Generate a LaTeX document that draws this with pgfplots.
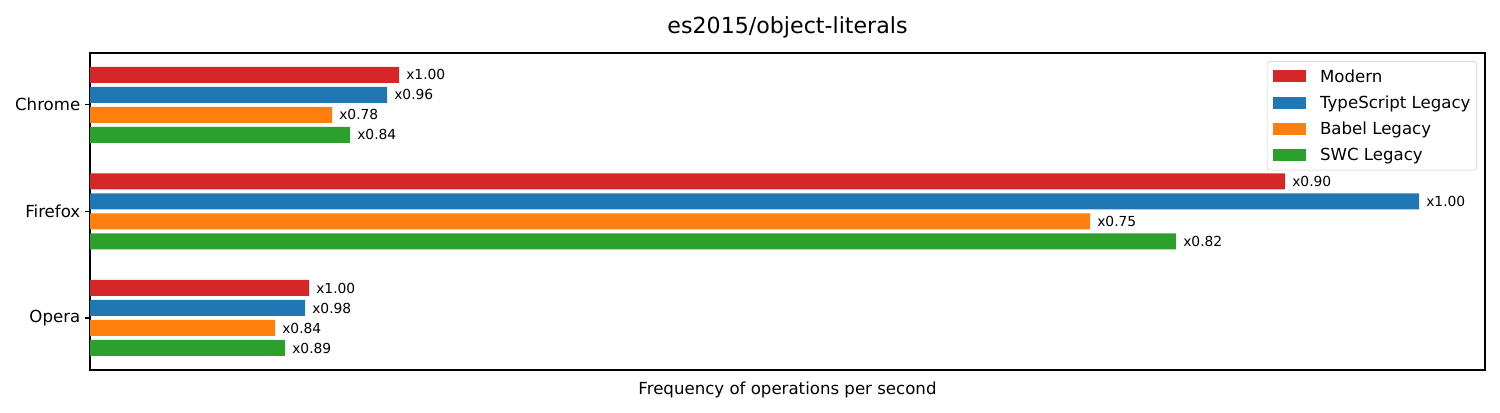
\documentclass[border=0pt]{standalone}
\usepackage{fontspec}
\setmainfont{DejaVu Sans}
\usepackage{pgfplots}
\pgfplotsset{compat=1.18}
\definecolor{cM}{HTML}{D62728}
\definecolor{cT}{HTML}{1F77B4}
\definecolor{cB}{HTML}{FF7F0E}
\definecolor{cS}{HTML}{2CA02C}
\begin{document}
\begin{tikzpicture}
\useasboundingbox (0,0) rectangle (15in,4.12in);
\begin{axis}[
  at={(0.90in,0.42in)}, anchor=south west,
  scale only axis, width=13.95in, height=3.17in,
  xmin=0, xmax=1395, ymin=-0.488, ymax=2.486,
  xtick=\empty, ytick={0,1,2}, yticklabels={Opera,Firefox,Chrome},
  ytick pos=left,
  yticklabel style={font=\fontsize{12}{14}\selectfont},
  tick align=outside, major tick length=3.5pt,
  tick style={black, line width=0.8pt},
  axis line style={line width=0.8pt},
  xbar, bar width=0.16in,
  title={es2015/object-literals},
  title style={font=\fontsize{16}{19}\selectfont, at={(0.5,1)}, anchor=base, yshift=0.11in},
  xlabel={Frequency of operations per second},
  xlabel style={font=\fontsize{12}{14}\selectfont, at={(0.5,0)}, anchor=base, yshift=-0.24in},
  nodes near coords, point meta=explicit symbolic,
  every node near coord/.append style={font=\fontsize{10}{12}\selectfont, anchor=west, inner sep=0pt, xshift=0.07in, text=black},
  legend image code/.code={\fill[#1, sharp corners] (0in,-0.06in) rectangle (0.33in,0.06in);},
  legend cell align=left,
  legend style={at={(1,1)}, anchor=north east, xshift=-0.08in, yshift=-0.08in,
    draw=black!20, rounded corners=2pt, fill=white,
    font=\fontsize{12}{14}\selectfont,
    inner xsep=4.5pt, inner ysep=5pt, row sep=6.9pt,
    nodes={inner sep=0pt, text height=10.2pt, text depth=1.8pt},
    /tikz/every odd column/.append style={column sep=10pt}},
]
\addplot[fill=cM, draw=none, bar shift=0.3in] coordinates {(309,2) [x1.00] (1195,1) [x0.90] (219,0) [x1.00]};
\addlegendentry{Modern}
\addplot[fill=cT, draw=none, bar shift=0.1in] coordinates {(297,2) [x0.96] (1329,1) [x1.00] (215,0) [x0.98]};
\addlegendentry{TypeScript Legacy}
\addplot[fill=cB, draw=none, bar shift=-0.1in] coordinates {(242,2) [x0.78] (1000,1) [x0.75] (185,0) [x0.84]};
\addlegendentry{Babel Legacy}
\addplot[fill=cS, draw=none, bar shift=-0.3in] coordinates {(260,2) [x0.84] (1086,1) [x0.82] (195,0) [x0.89]};
\addlegendentry{SWC Legacy}
\end{axis}
\end{tikzpicture}
\end{document}
